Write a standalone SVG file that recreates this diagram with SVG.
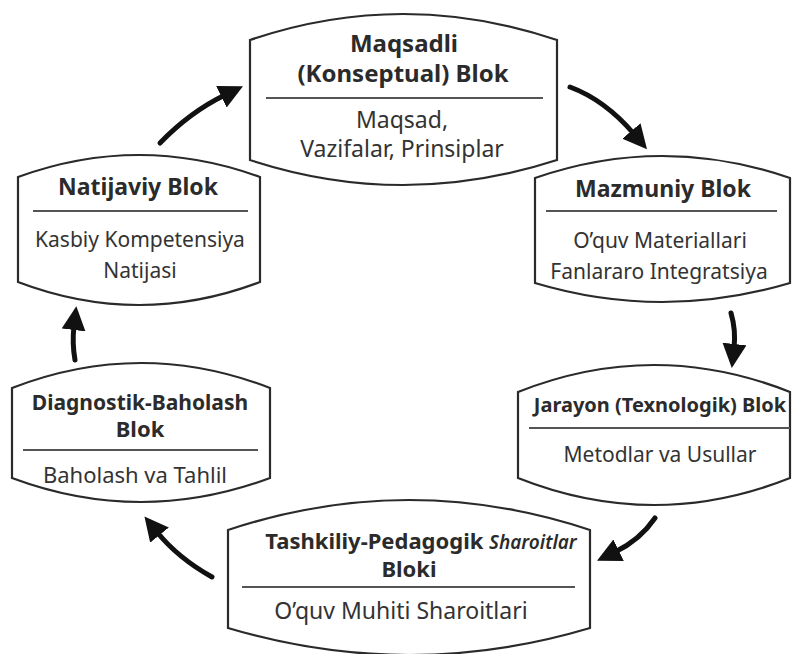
<svg xmlns="http://www.w3.org/2000/svg" width="792" height="654" viewBox="0 0 792 654">
<defs>
<style>
.box{fill:#fff;stroke:#2a2a2a;stroke-width:2.2}
.sep{stroke:#555;stroke-width:2}
.t{font-family:"Noto Sans","Open Sans",sans-serif;font-weight:700;fill:#2b2b2b;text-anchor:middle}
.b{font-family:"Noto Sans","Open Sans",sans-serif;fill:#333;text-anchor:middle}
.arr{fill:none;stroke:#111;stroke-width:5;stroke-linecap:round}
</style>
<marker id="ah" markerUnits="userSpaceOnUse" markerWidth="26" markerHeight="24" refX="4" refY="12" orient="auto">
<path d="M0,0 L24,12 L0,24 z" fill="#111"/>
</marker>
</defs>
<rect width="792" height="654" fill="#fff"/>

<g id="connectors">
<path class="arr" d="M160,143 Q190,112 225,95" marker-end="url(#ah)"/>
<path class="arr" d="M570,87 Q605,100 634,134" marker-end="url(#ah)"/>
<path class="arr" d="M731,313 Q736,330 734,348" marker-end="url(#ah)"/>
<path class="arr" d="M655,518 Q640,540 615,552" marker-end="url(#ah)"/>
<path class="arr" d="M212,577 Q178,558 157,532" marker-end="url(#ah)"/>
<path class="arr" d="M75,360 Q72,343 74,326" marker-end="url(#ah)"/>
</g>

<g id="maqsadli">
<path class="box" d="M250,40 Q403,-12 557,40 L557,160 Q403,210 250,160 Z"/>
<line class="sep" x1="266" y1="98" x2="543" y2="98"/>
<text class="t" x="404" y="52" font-size="24">Maqsadli</text>
<text class="t" x="403" y="82" font-size="24">(Konseptual) Blok</text>
<text class="b" x="402" y="128" font-size="23">Maqsad,</text>
<text class="b" x="402" y="157" font-size="23">Vazifalar, Prinsiplar</text>
</g>

<g id="mazmuniy">
<path class="box" d="M535,178 Q662,134 790,178 L790,283 Q662,321 535,283 Z"/>
<line class="sep" x1="546" y1="211" x2="777" y2="211"/>
<text class="t" x="663" y="197" font-size="23">Mazmuniy Blok</text>
<text class="b" x="660" y="248" font-size="21">O’quv Materiallari</text>
<text class="b" x="659" y="279" font-size="21">Fanlararo Integratsiya</text>
</g>

<g id="jarayon">
<path class="box" d="M518,392 Q654,338 790,392 L790,478 Q654,532 518,478 Z"/>
<line class="sep" x1="529" y1="428" x2="790" y2="428"/>
<text class="t" x="660" y="412" font-size="20">Jarayon (Texnologik) Blok</text>
<text class="b" x="660" y="462" font-size="21">Metodlar va Usullar</text>
</g>

<g id="tashkiliy">
<path class="box" d="M228,530 Q409,470 590,530 L590,628 Q409,682 228,628 Z"/>
<line class="sep" x1="242" y1="587" x2="575" y2="587"/>
<text class="t" x="421" y="549" font-size="22">Tashkiliy-Pedagogik <tspan font-size="19" font-style="italic" font-weight="600">Sharoitlar</tspan></text>
<text class="t" x="409" y="577" font-size="22">Bloki</text>
<text class="b" x="401" y="619" font-size="23">O’quv Muhiti Sharoitlari</text>
</g>

<g id="diagnostik">
<path class="box" d="M12,388 Q141,338 270,388 L270,478 Q141,526 12,478 Z"/>
<line class="sep" x1="23" y1="450" x2="258" y2="450"/>
<text class="t" x="140" y="410" font-size="21">Diagnostik-Baholash</text>
<text class="t" x="140" y="437" font-size="22">Blok</text>
<text class="b" x="135" y="483" font-size="22">Baholash va Tahlil</text>
</g>

<g id="natijaviy">
<path class="box" d="M18,177 Q139,133 260,177 L260,282 Q139,328 18,282 Z"/>
<line class="sep" x1="33" y1="211" x2="248" y2="211"/>
<text class="t" x="138" y="195" font-size="23">Natijaviy Blok</text>
<text class="b" x="140" y="247" font-size="21">Kasbiy Kompetensiya</text>
<text class="b" x="140" y="278" font-size="21">Natijasi</text>
</g>
</svg>
